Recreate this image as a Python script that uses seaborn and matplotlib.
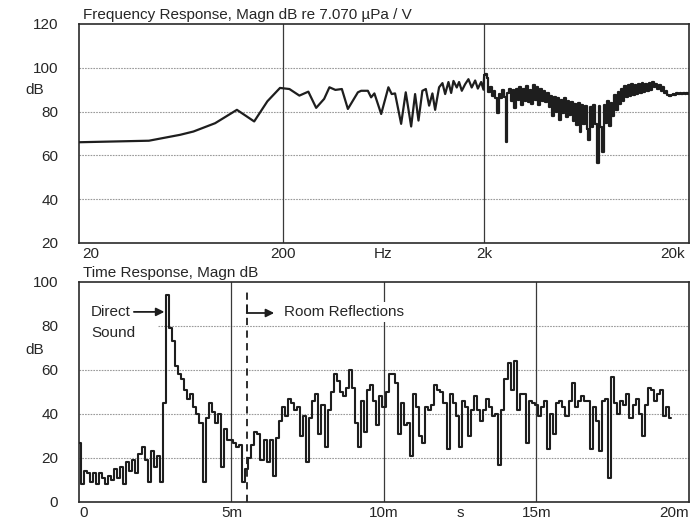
import numpy as np
import pandas as pd
import matplotlib
matplotlib.use("Agg")
import matplotlib.pyplot as plt
import seaborn as sns

# Frequency response, low end: readings at the corners of the trace (Hz, dB)
freq_lo = [19.3, 43, 61.5, 71.6, 91.8, 117.8, 143.6, 167, 193, 215,
           241, 267, 292, 320, 340, 364, 392, 420, 471, 489,
           528, 548, 569, 615, 668, 694, 721, 773, 815, 867,
           907, 943, 986, 1026, 1065, 1106, 1141, 1194, 1241, 1280,
           1329, 1371, 1408, 1462, 1501, 1549, 1609, 1671, 1735, 1805,
           1861, 1933, 1985]
mag_lo = [66.0, 66.7, 69.4, 70.9, 74.7, 80.8, 75.5, 84.7, 90.8, 90.3,
          87.3, 89.1, 81.7, 85.8, 91.1, 89.9, 90.3, 81.2, 88.8, 89.5,
          89.5, 86.5, 88.3, 78.9, 91.1, 88.0, 88.3, 74.4, 88.8, 73.2,
          88.0, 75.9, 89.5, 90.3, 82.7, 88.3, 80.8, 91.1, 93.0, 88.0,
          93.5, 88.5, 94.0, 91.0, 93.5, 89.5, 92.5, 94.8, 91.0, 94.2,
          90.5, 93.5, 90.0]

# Frequency response, 2k..20.9k: one reading per ~1.7 px column (dB)
freq_hi_range = (2000, 20900)
mag_hi = [96.5, 97.0, 95.5, 89.0, 91.0, 87.0, 89.5, 86.0, 79.5, 88.0,
          86.0, 90.0, 86.5, 66.0, 88.5, 90.5, 85.0, 90.0, 81.5, 90.5,
          85.5, 91.0, 83.0, 90.5, 85.0, 91.5, 84.5, 90.0, 83.5, 92.0,
          85.5, 91.0, 83.0, 90.5, 85.0, 89.5, 84.5, 88.5, 82.0, 87.0,
          78.0, 86.5, 80.0, 86.0, 76.0, 85.5, 79.5, 86.0, 77.5, 85.0,
          78.5, 84.5, 75.5, 83.5, 74.0, 84.0, 70.5, 83.0, 74.5, 82.5,
          72.0, 67.0, 82.0, 73.0, 83.0, 74.5, 56.5, 82.5, 73.0, 61.5,
          83.0, 75.0, 85.0, 73.5, 84.0, 78.0, 87.5, 80.5, 89.0, 83.5,
          90.5, 85.0, 91.5, 86.5, 92.0, 87.0, 92.5, 87.5, 92.0, 88.0,
          92.5, 88.5, 93.0, 89.0, 92.5, 89.5, 93.0, 90.0, 93.5, 91.0,
          92.5, 90.5, 92.0, 89.5, 91.0, 88.5, 89.5, 87.5, 87.0, 87.5,
          88.0, 87.5, 88.5, 88.0, 88.5, 88.0, 88.5, 88.0, 88.5, 88.0]

# Time response: one reading every 0.1 ms from 0 to 19.4 ms (dB)
time_step_ms = 0.1
time_db = [27, 8, 14, 13, 9, 13, 8, 13, 11, 8,
           12, 10, 15, 11, 16, 8, 18, 14, 19, 13,
           22, 25, 19, 9, 23, 16, 21, 9, 45, 94,
           79, 73, 62, 58, 56, 51, 47, 49, 43, 40,
           36, 9, 38, 45, 41, 36, 40, 16, 33, 28,
           28, 27, 25, 26, 9, 15, 20, 26, 32, 31,
           19, 28, 18, 28, 12, 29, 37, 43, 39, 47,
           45, 42, 43, 30, 39, 18, 38, 46, 49, 31,
           44, 25, 42, 50, 58, 55, 50, 48, 52, 60,
           52, 36, 25, 46, 32, 51, 53, 46, 35, 48,
           43, 50, 58, 58, 54, 31, 45, 35, 36, 21,
           49, 43, 30, 27, 43, 42, 44, 53, 51, 50,
           45, 24, 49, 45, 39, 25, 46, 43, 30, 42,
           48, 42, 37, 42, 47, 43, 39, 40, 17, 42,
           56, 63, 51, 64, 42, 49, 49, 27, 46, 45,
           44, 39, 43, 46, 24, 40, 31, 45, 46, 43,
           39, 46, 54, 43, 46, 48, 46, 46, 24, 43,
           37, 23, 46, 47, 11, 57, 45, 40, 46, 44,
           49, 38, 44, 47, 40, 30, 44, 52, 51, 46,
           49, 51, 39, 43, 38]

freq_ticks = [20, 200, 632, 2000, 20000]
freq_ticklabels = ["20", "200", "Hz", "2k", "20k"]
freq_grid = [40, 60, 80, 100]
time_ticks = [0, 5, 10, 12.5, 15, 20]
time_ticklabels = ["0", "5m", "10m", "s", "15m", "20m"]
time_grid = [20, 40, 60, 80]
reflections_start_ms = 5.5

sns.set_style("white")
plt.rcParams["font.family"] = ["Liberation Sans", "DejaVu Sans"]
plt.rcParams["font.size"] = 11

freq_hi = np.geomspace(*freq_hi_range, len(mag_hi))
lo_df = pd.DataFrame({"Hz": freq_lo + [freq_hi[0]], "dB": mag_lo + [mag_hi[0]]})
hi_df = pd.DataFrame({"Hz": freq_hi, "dB": mag_hi})
time_df = pd.DataFrame({
    "ms": np.arange(len(time_db)) * time_step_ms,
    "dB": time_db,
})

ink = "#1e1e1e"
fig = plt.figure(figsize=(6.96, 5.19), dpi=100)
fig.patch.set_facecolor("white")
ax1 = fig.add_axes([0.1135, 0.5318, 0.8764, 0.422])
ax2 = fig.add_axes([0.1135, 0.0328, 0.8764, 0.4239])

# --- Frequency response
ax1.set_xscale("log")
for y in freq_grid:
    ax1.axhline(y, color="#9a9a9a", lw=0.8, ls=(0, (1.5, 1)), zorder=1)
for f in [200, 2000]:
    ax1.axvline(f, color="#3a3a3a", lw=0.9, zorder=1)
sns.lineplot(data=lo_df, x="Hz", y="dB", ax=ax1, color=ink, lw=1.6,
             estimator=None, zorder=3)
sns.lineplot(data=hi_df, x="Hz", y="dB", ax=ax1, color=ink, lw=1.6,
             estimator=None, drawstyle="steps-mid", zorder=3)
ax1.set_xlim(19.3, 20900)
ax1.set_ylim(20, 120)
ax1.set_xticks(freq_ticks)
ax1.set_xticklabels(freq_ticklabels)
ax1.xaxis.set_minor_locator(matplotlib.ticker.NullLocator())
ax1.set_yticks([20, 40, 60, 80, 100, 120])
ax1.set_xlabel("")
ax1.set_ylabel("dB", rotation=0, va="center", ha="center")
ax1.yaxis.set_label_coords(-0.072, 0.70)
ax1.text(0.006, 1.022, "Frequency Response, Magn dB re 7.070 µPa / V",
         transform=ax1.transAxes, ha="left", va="baseline")

# --- Time response
for y in time_grid:
    ax2.axhline(y, xmin=0.13 if y == 80 else 0, color="#9a9a9a", lw=0.8,
                ls=(0, (1.5, 1)), zorder=1)
for t in [5, 10, 15]:
    ax2.axvline(t, color="#3a3a3a", lw=0.9, zorder=1)
ax2.axvline(reflections_start_ms, ymax=0.96, color=ink, lw=1.3,
            ls=(0, (4, 3)), zorder=2)
sns.lineplot(data=time_df, x="ms", y="dB", ax=ax2, color=ink, lw=1.5,
             estimator=None, drawstyle="steps-mid", zorder=3)
ax2.set_xlim(0, 20)
ax2.set_ylim(0, 100)
ax2.set_xticks(time_ticks)
ax2.set_xticklabels(time_ticklabels)
ax2.set_yticks([0, 20, 40, 60, 80, 100])
ax2.set_xlabel("")
ax2.set_ylabel("dB", rotation=0, va="center", ha="center")
ax2.yaxis.set_label_coords(-0.072, 0.69)
ax2.text(0.006, 1.023, "Time Response, Magn dB",
         transform=ax2.transAxes, ha="left", va="baseline")

arrow = dict(arrowstyle="-|>", color=ink, lw=1.3, mutation_scale=12,
             shrinkA=0, shrinkB=0)
ax2.text(0.39, 86.4, "Direct", ha="left", va="center", zorder=5)
ax2.annotate("", xy=(2.8, 86.4), xytext=(1.8, 86.4), arrowprops=arrow,
             zorder=5)
ax2.text(0.39, 76.8, "Sound", ha="left", va="center", zorder=5)
ax2.plot([reflections_start_ms, reflections_start_ms], [89.5, 85.9],
         color=ink, lw=1.3, zorder=5)
ax2.annotate("", xy=(6.4, 85.9), xytext=(reflections_start_ms, 85.9),
             arrowprops=arrow, zorder=5)
ax2.text(6.73, 86.4, "Room Reflections", ha="left", va="center", zorder=5,
         bbox=dict(facecolor="white", edgecolor="none", pad=2))

for ax in (ax1, ax2):
    ax.tick_params(length=0, pad=3)
    ax.tick_params(axis="y", pad=15)
    for s in ax.spines.values():
        s.set_color("#2a2a2a")
        s.set_linewidth(1.2)
    xl = ax.get_xticklabels()
    xl[0].set_ha("left")
    xl[-1].set_ha("right")

fig.savefig("out.png", dpi=100, facecolor="white")
